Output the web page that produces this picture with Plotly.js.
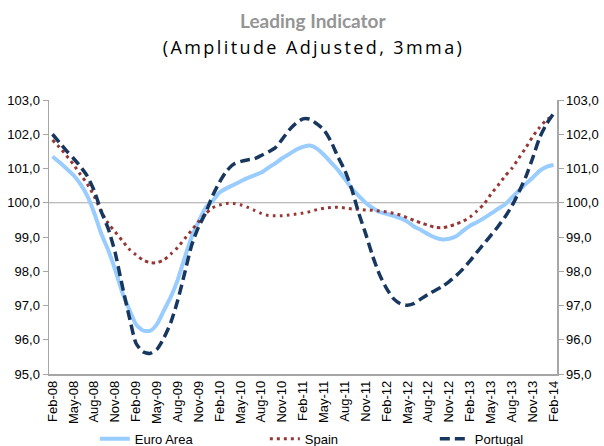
<!DOCTYPE html>
<html><head><meta charset="utf-8">
<script src="https://cdn.plot.ly/plotly-3.0.1.min.js"></script>
<style>html,body{margin:0;padding:0;background:#fff;}#chart{width:604px;height:446px;}</style>
</head><body><div id="chart"></div>
<script>
const months = [
 'Feb-08','Mar-08','Apr-08','May-08','Jun-08','Jul-08','Aug-08','Sep-08','Oct-08','Nov-08','Dec-08',
 'Jan-09','Feb-09','Mar-09','Apr-09','May-09','Jun-09','Jul-09','Aug-09','Sep-09','Oct-09','Nov-09','Dec-09',
 'Jan-10','Feb-10','Mar-10','Apr-10','May-10','Jun-10','Jul-10','Aug-10','Sep-10','Oct-10','Nov-10','Dec-10',
 'Jan-11','Feb-11','Mar-11','Apr-11','May-11','Jun-11','Jul-11','Aug-11','Sep-11','Oct-11','Nov-11','Dec-11',
 'Jan-12','Feb-12','Mar-12','Apr-12','May-12','Jun-12','Jul-12','Aug-12','Sep-12','Oct-12','Nov-12','Dec-12',
 'Jan-13','Feb-13','Mar-13','Apr-13','May-13','Jun-13','Jul-13','Aug-13','Sep-13','Oct-13','Nov-13','Dec-13',
 'Jan-14','Feb-14'
];
const tickLabels = ['Feb-08','May-08','Aug-08','Nov-08','Feb-09','May-09','Aug-09','Nov-09','Feb-10','May-10',
 'Aug-10','Nov-10','Feb-11','May-11','Aug-11','Nov-11','Feb-12','May-12','Aug-12','Nov-12','Feb-13','May-13',
 'Aug-13','Nov-13','Feb-14'];
const euroArea = [
 101.35,101.18,101.00,100.81,100.55,100.20,99.70,99.10,98.62,98.05,97.40,
 96.90,96.45,96.27,96.26,96.45,96.85,97.25,97.75,98.40,99.00,99.45,99.85,
 100.05,100.30,100.42,100.52,100.62,100.72,100.80,100.88,101.02,101.15,101.30,101.42,
 101.55,101.63,101.67,101.58,101.40,101.18,100.96,100.70,100.42,100.20,100.00,99.85,
 99.73,99.68,99.62,99.55,99.45,99.30,99.20,99.08,98.98,98.93,98.95,99.02,
 99.18,99.33,99.43,99.55,99.68,99.82,99.95,100.15,100.35,100.55,100.73,100.93,
 101.05,101.10
];
const spain = [
 101.83,101.62,101.38,101.12,100.83,100.55,100.18,99.75,99.40,99.15,98.90,
 98.65,98.48,98.33,98.25,98.25,98.33,98.50,98.70,98.95,99.20,99.45,99.68,
 99.85,99.93,99.98,99.98,99.94,99.87,99.78,99.69,99.63,99.62,99.62,99.64,
 99.67,99.70,99.74,99.80,99.84,99.86,99.87,99.85,99.82,99.81,99.79,99.78,
 99.76,99.73,99.69,99.64,99.56,99.48,99.41,99.34,99.28,99.27,99.31,99.38,
 99.46,99.58,99.76,99.96,100.25,100.50,100.77,101.00,101.30,101.60,101.93,102.20,
 102.42,102.55
];
const portugal = [
 102.00,101.76,101.52,101.30,101.06,100.78,100.35,99.75,99.25,98.55,97.60,
 96.70,95.90,95.65,95.60,95.72,96.05,96.50,97.15,97.95,98.76,99.30,99.70,
 100.20,100.60,100.92,101.12,101.20,101.25,101.28,101.38,101.48,101.60,101.85,102.12,
 102.32,102.45,102.44,102.30,102.13,101.80,101.35,100.95,100.40,99.70,99.10,98.45,
 97.90,97.50,97.20,97.05,97.01,97.06,97.20,97.33,97.44,97.55,97.70,97.87,
 98.07,98.30,98.56,98.80,99.05,99.30,99.58,99.90,100.30,100.75,101.30,101.90,
 102.30,102.60
];
const seriesNames = ['Euro Area','Spain','Portugal'];

const FONT = 'Liberation Sans, Arial, sans-serif';
const AXCOL = '#A6A6A6';

const traces = [
 {x: months, y: euroArea, name: seriesNames[0], type: 'scatter', mode: 'lines',
  line: {color: '#99CCFF', width: 4, shape: 'spline', smoothing: 0.6}},
 {x: months, y: spain, name: seriesNames[1], type: 'scatter', mode: 'lines',
  line: {color: '#953735', width: 3, dash: '3px,4px', shape: 'spline', smoothing: 0.6}},
 {x: months, y: portugal, name: seriesNames[2], type: 'scatter', mode: 'lines', yaxis: 'y2',
  line: {color: '#17375E', width: 3.5, dash: '10px,5px', shape: 'spline', smoothing: 0.6}}
];

const yax = {
 range: [95, 103], dtick: 1, tick0: 95, tickformat: '.1f', automargin: false,
 showgrid: false, zeroline: false, showline: true, linecolor: AXCOL, linewidth: 1.5,
 ticks: 'outside', ticklen: 5, tickcolor: AXCOL, tickwidth: 1,
 tickfont: {family: FONT, size: 13, color: '#000'}, fixedrange: true
};

const layout = {
 width: 604, height: 446,
 margin: {l: 49, r: 47, t: 100, b: 72},
 paper_bgcolor: '#fff', plot_bgcolor: '#fff',
 separators: ',.',
 showlegend: true,
 legend: {orientation: 'h', xref: 'container', yref: 'container', x: 0.157, xanchor: 'left',
  y: 0.016, yanchor: 'middle', bgcolor: 'rgba(0,0,0,0)',
  font: {family: FONT, size: 13, color: '#000'}, entrywidth: 125, traceorder: 'normal'},
 xaxis: {
  type: 'category', range: [-0.5, 72.5], tickmode: 'array', tickvals: tickLabels, ticktext: tickLabels,
  tickangle: -90, showgrid: false, zeroline: false, showline: true, linecolor: AXCOL, linewidth: 1.5,
  ticks: '', automargin: false, tickfont: {family: FONT, size: 13, color: '#000'}, fixedrange: true
 },
 yaxis: Object.assign({}, yax, {side: 'left'}),
 yaxis2: Object.assign({}, yax, {side: 'right', overlaying: 'y'}),
 shapes: [{type: 'line', xref: 'paper', x0: 0, x1: 1, yref: 'y', y0: 100, y1: 100,
  line: {color: AXCOL, width: 1}, layer: 'below'}],
 annotations: [
  {text: '<b>Leading Indicator</b>', xref: 'paper', yref: 'paper', x: 0.52, y: 1.0, xanchor: 'center', yanchor: 'middle',
   yshift: 80, showarrow: false, font: {family: 'Lato, sans-serif', size: 19, color: '#959595'}},
  {text: '(Amplitude Adjusted, 3mma)', xref: 'paper', yref: 'paper', x: 0.52, y: 1.0, xanchor: 'center', yanchor: 'middle',
   yshift: 53, showarrow: false, font: {family: 'Open Sans, sans-serif', size: 18, color: '#000'}}
 ]
};

Plotly.newPlot('chart', traces, layout, {displayModeBar: false, staticPlot: true}).then(function(){
 document.querySelectorAll('.annotation-text').forEach(function(t){
  if (t.textContent.indexOf('Amplitude') >= 0) t.style.letterSpacing = '2.4px';
 });
});
</script>
</body></html>
